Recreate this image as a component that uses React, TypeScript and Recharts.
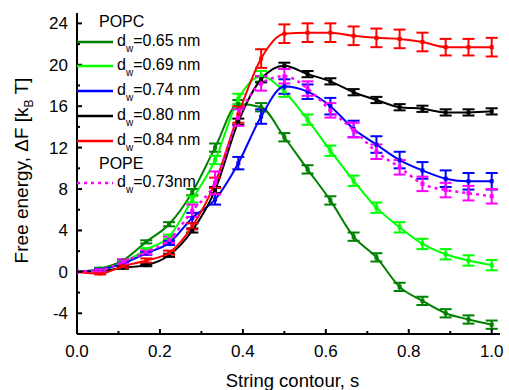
import { LineChart, Line, XAxis, YAxis, ErrorBar, Label } from 'recharts';

// string contour positions (19 images along the string)
const contour = [0, 0.056, 0.111, 0.167, 0.222, 0.278, 0.333, 0.389, 0.444, 0.5, 0.556, 0.611, 0.667, 0.722, 0.778, 0.833, 0.889, 0.944, 1.0];

// POPC, free energy in kBT and error bars
const popc065 = [0, 0.3, 1.1, 2.9, 4.6, 7.7, 12.0, 16.2, 15.9, 13.0, 9.9, 6.9, 3.4, 1.4, -1.45, -2.8, -4.0, -4.6, -5.1];
const err065 = [0, 0.1, 0.1, 0.15, 0.2, 0.3, 0.4, 0.4, 0.4, 0.4, 0.4, 0.4, 0.4, 0.4, 0.4, 0.4, 0.4, 0.4, 0.4];
const popc069 = [0, 0.2, 0.9, 2.15, 3.4, 7.0, 10.8, 16.7, 18.9, 17.4, 14.7, 11.7, 8.8, 6.2, 4.3, 2.7, 1.7, 1.1, 0.65];
const err069 = [0, 0.1, 0.1, 0.15, 0.2, 0.3, 0.4, 0.5, 0.5, 0.5, 0.5, 0.5, 0.5, 0.5, 0.5, 0.5, 0.5, 0.5, 0.5];
const popc074 = [0, 0.2, 0.8, 1.8, 2.8, 5.2, 7.0, 10.5, 15.0, 17.9, 17.4, 16.0, 13.8, 12.3, 10.8, 9.8, 9.0, 8.75, 8.75];
const err074 = [0, 0.1, 0.1, 0.15, 0.2, 0.5, 0.5, 0.6, 0.7, 0.7, 0.7, 0.8, 0.8, 0.8, 0.8, 0.8, 0.8, 0.8, 0.8];
const popc080 = [0, 0.05, 0.4, 0.65, 1.6, 4.0, 7.9, 14.5, 18.6, 19.9, 19.1, 18.4, 17.35, 16.6, 15.9, 15.75, 15.4, 15.4, 15.5];
const err080 = [0, 0.05, 0.1, 0.1, 0.15, 0.2, 0.3, 0.3, 0.3, 0.3, 0.3, 0.3, 0.3, 0.3, 0.3, 0.3, 0.3, 0.3, 0.3];
const popc084 = [0, -0.15, 0.55, 1.1, 1.85, 4.4, 8.6, 15.2, 20.6, 23.0, 23.1, 23.1, 22.8, 22.6, 22.5, 22.2, 21.7, 21.7, 21.7];
const err084 = [0, 0.1, 0.15, 0.2, 0.2, 0.3, 0.5, 0.8, 0.9, 0.9, 0.9, 0.9, 0.9, 0.9, 0.9, 0.9, 0.8, 0.8, 0.9];
// POPE
const pope073 = [0, 0.15, 1.0, 1.9, 3.1, 5.9, 8.6, 14.9, 18.2, 18.9, 17.7, 15.6, 13.7, 11.6, 10.1, 8.5, 7.9, 7.6, 7.3];
const errPope = [0, 0.1, 0.2, 0.2, 0.3, 0.6, 1.1, 0.8, 0.7, 0.7, 0.7, 0.7, 0.7, 0.7, 0.7, 0.7, 0.7, 0.7, 0.7];

const xMajor = [0, 0.2, 0.4, 0.6, 0.8, 1.0];
const xMinor = [0.1, 0.3, 0.5, 0.7, 0.9];
const yMajor = [-4, 0, 4, 8, 12, 16, 20, 24];
const yMinor = [-2, 2, 6, 10, 14, 18, 22];

const series = [
  { key: 'g65', err: 'e65', vals: popc065, errs: err065, color: '#008000', label: '=0.65 nm' },
  { key: 'g69', err: 'e69', vals: popc069, errs: err069, color: '#00ff00', label: '=0.69 nm' },
  { key: 'b74', err: 'e74', vals: popc074, errs: err074, color: '#0000ff', label: '=0.74 nm' },
  { key: 'k80', err: 'e80', vals: popc080, errs: err080, color: '#000000', label: '=0.80 nm' },
  { key: 'r84', err: 'e84', vals: popc084, errs: err084, color: '#ff0000', label: '=0.84 nm' },
  { key: 'p73', err: 'e73', vals: pope073, errs: errPope, color: '#ff00ff', label: '=0.73nm', dotted: true },
];

const data = contour.map((s, i) => {
  const row: Record<string, number> = { s };
  series.forEach((sr) => {
    row[sr.key] = sr.vals[i];
    row[sr.err] = sr.errs[i];
  });
  return row;
});

const FONT = 'Arial, "Liberation Sans", sans-serif';
const xTicks = [...xMajor, ...xMinor].sort((a, b) => a - b);
const yTicks = [...yMajor, ...yMinor].sort((a, b) => a - b);

const fmtX = (v: number) => v.toFixed(1);

function BottomTick(props: any) {
  const { x, y, payload } = props;
  const major = xMajor.includes(payload.value);
  return (
    <g>
      <line x1={x} x2={x} y1={y} y2={y - (major ? 5 : 3)} stroke="#000" strokeWidth={2} />
      {major && (
        <text x={x} y={y + 23} textAnchor="middle" fontSize={17} fontFamily={FONT} fill="#000">
          {fmtX(payload.value)}
        </text>
      )}
    </g>
  );
}

function TopTick(props: any) {
  const { x, y, payload } = props;
  const major = xMajor.includes(payload.value);
  return <line x1={x} x2={x} y1={y} y2={y + (major ? 5 : 3)} stroke="#000" strokeWidth={2} />;
}

function LeftTick(props: any) {
  const { x, y, payload } = props;
  const major = yMajor.includes(payload.value);
  return (
    <g>
      <line x1={x} x2={x + (major ? 5 : 3)} y1={y} y2={y} stroke="#000" strokeWidth={2} />
      {major && (
        <text x={x - 9} y={y + 6} textAnchor="end" fontSize={17} fontFamily={FONT} fill="#000">
          {payload.value}
        </text>
      )}
    </g>
  );
}

function RightTick(props: any) {
  const { x, y, payload } = props;
  const major = yMajor.includes(payload.value);
  return <line x1={x} x2={x - (major ? 5 : 3)} y1={y} y2={y} stroke="#000" strokeWidth={2} />;
}

function squareDot(color: string) {
  return (p: any) => (
    <rect key={p.index} x={p.cx - 2} y={p.cy - 2} width={4} height={4} fill={color} />
  );
}

function Sample({ color, dotted }: { color: string; dotted?: boolean }) {
  return (
    <svg width={36} height={6} style={{ display: 'block' }}>
      <line x1={0} x2={36} y1={3} y2={3} stroke={color} strokeWidth={dotted ? 2.5 : 2.5}
        strokeDasharray={dotted ? '3 4' : undefined} />
    </svg>
  );
}

function LegendBox() {
  const entryTops = [41.7, 65.7, 90.7, 115.7, 140.7, 183.3];
  const text = { fontFamily: FONT, fontSize: 16, color: '#000', lineHeight: '18px', whiteSpace: 'nowrap' as const };
  return (
    <>
      <div style={{ position: 'absolute', left: 99, top: 13, ...text }}>POPC</div>
      <div style={{ position: 'absolute', left: 99, top: 155, ...text }}>POPE</div>
      {series.map((sr, i) => (
        <div key={sr.key} style={{ position: 'absolute', left: 77, top: entryTops[i] - 9, height: 18, display: 'flex', alignItems: 'center' }}>
          <Sample color={sr.color} dotted={sr.dotted} />
          <span style={{ marginLeft: 4, ...text }}>
            d<span style={{ fontSize: 10, position: 'relative', top: 6 }}>w</span>{sr.label}
          </span>
        </div>
      ))}
    </>
  );
}

export default function App() {
  return (
    <div style={{ position: 'absolute', left: 0, top: 0, width: 509, height: 390, background: '#fff' }}>
      <LineChart width={509} height={390} data={data} margin={{ top: 13, right: 9, bottom: 16, left: 17 }}>
        <XAxis
          dataKey="s"
          type="number"
          domain={[0, 1.02]}
          allowDataOverflow
          ticks={xTicks}
          interval={0}
          height={40}
          tickSize={0}
          tickMargin={0}
          tick={<BottomTick />}
          axisLine={{ stroke: '#000', strokeWidth: 2 }}
        >
          <Label
            content={({ viewBox }: any) => (
              <text x={viewBox.x + viewBox.width / 2 + 4} y={viewBox.y + 53} textAnchor="middle"
                fontSize={18.5} fontFamily={FONT} fill="#000">
                String contour, s
              </text>
            )}
          />
        </XAxis>
        <XAxis
          xAxisId="top"
          orientation="top"
          dataKey="s"
          type="number"
          domain={[0, 1.02]}
          allowDataOverflow
          ticks={xTicks}
          interval={0}
          height={0}
          tickSize={0}
          tickMargin={0}
          tick={<TopTick />}
          axisLine={{ stroke: '#000', strokeWidth: 2 }}
        />
        <YAxis
          type="number"
          domain={[-6, 25]}
          allowDataOverflow
          ticks={yTicks}
          interval={0}
          width={60}
          tickSize={0}
          tickMargin={0}
          tick={<LeftTick />}
          axisLine={{ stroke: '#000', strokeWidth: 2 }}
        >
          <Label
            content={({ viewBox }: any) => {
              const cx = viewBox.x + 11;
              const cy = viewBox.y + viewBox.height / 2 - 3;
              return (
                <text x={cx} y={cy} transform={`rotate(-90, ${cx}, ${cy})`} textAnchor="middle"
                  fontSize={19} fontFamily={FONT} fill="#000">
                  Free energy, ΔF [k<tspan fontSize={12} dy={5}>B</tspan><tspan dy={-5}> T]</tspan>
                </text>
              );
            }}
          />
        </YAxis>
        <YAxis
          yAxisId="right"
          orientation="right"
          type="number"
          domain={[-6, 25]}
          allowDataOverflow
          ticks={yTicks}
          interval={0}
          width={0}
          tickSize={0}
          tickMargin={0}
          tick={<RightTick />}
          axisLine={{ stroke: '#000', strokeWidth: 2 }}
        />
        {series.map((sr) => (
          <Line
            key={sr.key}
            dataKey={sr.key}
            type="monotone"
            stroke={sr.color}
            strokeWidth={sr.dotted ? 2.5 : 2}
            strokeDasharray={sr.dotted ? '3 4' : undefined}
            dot={squareDot(sr.color)}
            activeDot={false}
            isAnimationActive={false}
          >
            <ErrorBar dataKey={sr.err} width={6} strokeWidth={2} stroke={sr.color} isAnimationActive={false} />
          </Line>
        ))}
      </LineChart>
      <LegendBox />
    </div>
  );
}
